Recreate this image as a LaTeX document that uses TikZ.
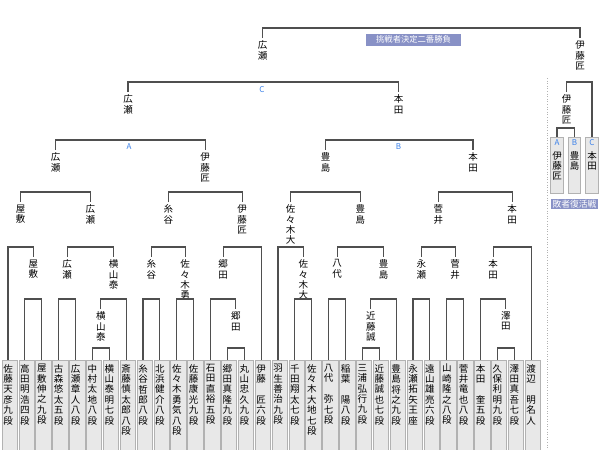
\documentclass[tikz,border=0pt]{standalone}
\usepackage{fontspec}
\newfontfamily\jp{Noto Sans CJK JP}
\usetikzlibrary{calc}
\definecolor{linegray}{HTML}{4F4F4F}
\definecolor{cellgray}{HTML}{E8E8E8}
\definecolor{edgegray}{HTML}{B2B2B2}
\definecolor{letterblue}{HTML}{3A80E8}
\definecolor{boxblue}{HTML}{8891C6}
\ExplSyntaxOn
\NewDocumentCommand\tate{m}{\tl_set:Nx\l_tmpa_tl{#1}\tl_map_inline:Nn\l_tmpa_tl{##1\par}}
\ExplSyntaxOff
\newcommand\match[3]{\draw[bline] (#1.north) |- (#2.north |- 0,#3) -- (#2.north);}

\begin{document}
\begin{tikzpicture}[x=1pt,y=-1pt,
    bline/.style={draw=linegray,line width=1.1pt},
    vname/.style={font=\jp\fontsize{9.5}{10.4}\selectfont,text width=10pt,align=center,inner xsep=0pt,inner ysep=2.5pt,anchor=north},
    cellbox/.style={fill=cellgray,draw=edgegray,line width=0.6pt},
    abc/.style={font=\jp\fontsize{8}{8}\selectfont,text=letterblue,inner sep=0pt},
    titlebox/.style={fill=boxblue,text=white,font=\jp\fontsize{8.3}{9}\selectfont,inner sep=0pt}]
\useasboundingbox (0,0) rectangle (600,450);

\foreach \n [count=\i from 0] in {佐藤天彦九段,高田明浩四段,屋敷伸之九段,古森悠太五段,広瀬章人八段,中村太地八段,横山泰明七段,斎藤慎太郎八段,糸谷哲郎八段,北浜健介八段,佐々木勇気八段,佐藤康光九段,石田直裕五段,郷田真隆九段,丸山忠久九段,伊藤　匠六段,羽生善治九段,千田翔太七段,佐々木大地七段,八代　弥七段,稲葉　陽八段,三浦弘行九段,近藤誠也七段,豊島将之九段,永瀬拓矢王座,遠山雄亮六段,山崎隆之八段,菅井竜也八段,本田　奎五段,久保利明九段,澤田真吾七段,渡辺　明名人}
{
  \draw[cellbox] ({16.875*\i+2},360) rectangle ({16.875*\i+17.3},455);
  \node[vname,inner ysep=4pt] (p\i) at ({16.875*\i+8},360) {\tate{\n}};
}

\node[vname] (yokoyama7) at (100.8,309) {\tate{横山泰}};
\node[vname] (gouda7) at (235.8,309) {\tate{郷田}};
\node[vname] (kondo7) at (370.8,309) {\tate{近藤誠}};
\node[vname] (sawada7) at (505.8,309) {\tate{澤田}};

\node[vname] (yashiki6) at (33.3,257) {\tate{屋敷}};
\node[vname] (hirose6) at (67.1,257) {\tate{広瀬}};
\node[vname] (yokoyama6) at (113.5,257) {\tate{横山泰}};
\node[vname] (itotani6) at (151.4,257) {\tate{糸谷}};
\node[vname] (sasakiyu6) at (185.2,257) {\tate{佐々木勇}};
\node[vname] (gouda6) at (223.2,257) {\tate{郷田}};
\node[vname] (sasakida6) at (303.3,257) {\tate{佐々木大}};
\node[vname] (yashiro6) at (337.1,257) {\tate{八代}};
\node[vname] (toyoshima6) at (383.5,257) {\tate{豊島}};
\node[vname] (nagase6) at (421.4,257) {\tate{永瀬}};
\node[vname] (sugai6) at (455.2,257) {\tate{菅井}};
\node[vname] (honda6) at (493.2,257) {\tate{本田}};

\node[vname] (yashiki5) at (20.7,202) {\tate{屋敷}};
\node[vname] (hirose5) at (90.3,202) {\tate{広瀬}};
\node[vname] (itotani5) at (168.3,202) {\tate{糸谷}};
\node[vname] (ito5) at (242.1,202) {\tate{伊藤匠}};
\node[vname] (sasakida5) at (290.7,202) {\tate{佐々木大}};
\node[vname] (toyoshima5) at (360.3,202) {\tate{豊島}};
\node[vname] (sugai5) at (438.3,202) {\tate{菅井}};
\node[vname] (honda5) at (512.2,202) {\tate{本田}};

\node[vname] (hirose4) at (55.5,150) {\tate{広瀬}};
\node[vname] (ito4) at (205.2,150) {\tate{伊藤匠}};
\node[vname] (toyoshima4) at (325.5,150) {\tate{豊島}};
\node[vname] (honda4) at (473,150) {\tate{本田}};

\node[vname] (hirose3) at (128,92) {\tate{広瀬}};
\node[vname] (honda3) at (398.5,92) {\tate{本田}};
\node[vname] (itorep) at (566.5,92) {\tate{伊藤匠}};

\node[vname] (hirose2) at (262.5,38) {\tate{広瀬}};
\node[vname] (ito2) at (580,38) {\tate{伊藤匠}};

\node[abc] (lblA) at (129,146.5) {A};
\node[abc] (lblB) at (398.5,146.5) {B};
\node[abc] (lblC) at (262,90) {C};
\node[titlebox,minimum width=95pt,minimum height=12pt] (title) at (413.5,39.5) {挑戦者決定二番勝負};

\draw[edgegray,dotted,line width=0.6pt] (547,78) -- (547,450);
\node[cellbox,anchor=north,minimum width=12.5pt,minimum height=56pt,inner sep=0pt] (ra) at (557,137) {};
\node[cellbox,anchor=north,minimum width=12.5pt,minimum height=56pt,inner sep=0pt] (rb) at (574.5,137) {};
\node[cellbox,anchor=north,minimum width=12.5pt,minimum height=56pt,inner sep=0pt] (rc) at (592,137) {};
\node[abc] (ra-l) at (557,143) {A};
\node[abc] (rb-l) at (574.5,143) {B};
\node[abc] (rc-l) at (592,143) {C};
\node[vname] (ra-n) at (557,148.5) {\tate{伊藤匠}};
\node[vname] (rb-n) at (574.5,148.5) {\tate{豊島}};
\node[vname] (rc-n) at (592,148.5) {\tate{本田}};
\node[titlebox,minimum width=47pt,minimum height=10.5pt,font=\jp\fontsize{8.8}{9}\selectfont] (reptitle) at (574.5,204) {敗者復活戦};

\match{p5}{p6}{348}
\match{p13}{p14}{348}
\match{p21}{p22}{348}
\match{p29}{p30}{348}

\match{p1}{p2}{299}
\match{p3}{p4}{299}
\match{yokoyama7}{p7}{299}
\match{p8}{p9}{299}
\match{p10}{p11}{299}
\match{p12}{gouda7}{299}
\match{p17}{p18}{299}
\match{p19}{p20}{299}
\match{kondo7}{p23}{299}
\match{p24}{p25}{299}
\match{p26}{p27}{299}
\match{p28}{sawada7}{299}

\match{p0}{yashiki6}{247}
\match{hirose6}{yokoyama6}{247}
\match{itotani6}{sasakiyu6}{247}
\match{gouda6}{p15}{247}
\match{p16}{sasakida6}{247}
\match{yashiro6}{toyoshima6}{247}
\match{nagase6}{sugai6}{247}
\match{honda6}{p31}{247}

\match{yashiki5}{hirose5}{192}
\match{itotani5}{ito5}{192}
\match{sasakida5}{toyoshima5}{192}
\match{sugai5}{honda5}{192}

\match{hirose4}{ito4}{140}
\match{toyoshima4}{honda4}{140}
\match{hirose3}{honda3}{82}
\match{hirose2}{ito2}{28}

\match{ra}{rb}{128}
\match{itorep}{rc}{82}
\end{tikzpicture}
\end{document}
